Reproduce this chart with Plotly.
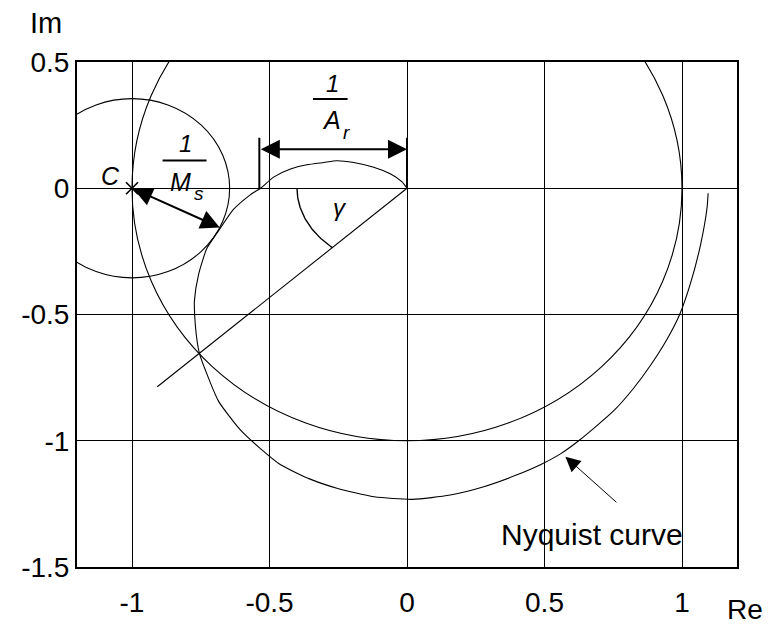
import numpy as np
import plotly.graph_objects as go

# ---- data -------------------------------------------------------------
# Nyquist curve of the loop transfer function, low -> high frequency
nyq_re = [1.095, 1.091, 1.067, 1.030, 0.990, 0.945, 0.885, 0.824, 0.751,
          0.630, 0.558, 0.485, 0.400, 0.279, 0.157, 0.020, -0.120, -0.255,
          -0.352, -0.461, -0.534, -0.606, -0.685, -0.721, -0.754, -0.764,
          -0.772, -0.773, -0.758, -0.728, -0.685, -0.631, -0.570, -0.533,
          -0.485, -0.424, -0.364, -0.303, -0.255, -0.194, -0.121, -0.061,
          -0.018, 0.0]
nyq_im = [-0.020, -0.078, -0.226, -0.380, -0.504, -0.599, -0.702, -0.792, -0.882,
          -0.995, -1.052, -1.095, -1.135, -1.182, -1.215, -1.232, -1.222, -1.188,
          -1.152, -1.094, -1.030, -0.957, -0.844, -0.754, -0.657, -0.599,
          -0.503, -0.445, -0.342, -0.239, -0.168, -0.084, -0.026, 0.0,
          0.044, 0.076, 0.093, 0.102, 0.109, 0.102, 0.083, 0.057,
          0.025, 0.0]

critical_point = (-1.0, 0.0)          # C
ms_radius = 0.355                     # 1/Ms
ms_arrow_angle_deg = -26.0            # direction of the 1/Ms arrow
inv_ar = 0.537                        # 1/Ar (distance from origin to real-axis crossing)
pm_line_re = [0.0, -0.908]            # line through the unit-circle crossing
pm_line_im = [0.0, -0.786]

x_ticks = [-1, -0.5, 0, 0.5, 1]
x_tick_text = ["-1", "-0.5", "0", "0.5", "1"]
y_ticks = [0.5, 0, -0.5, -1, -1.5]
y_tick_text = ["0.5", "0", "-0.5", "-1", "-1.5"]

FONT = "Liberation Sans, Arial, Helvetica, sans-serif"
BLACK = "#000000"

fig = go.Figure()

# Nyquist curve
fig.add_trace(go.Scatter(x=nyq_re, y=nyq_im, mode="lines",
                         line=dict(color=BLACK, width=1.1, shape="spline", smoothing=0.6),
                         hoverinfo="skip", showlegend=False))

# line from the origin through the phase-margin crossing
fig.add_trace(go.Scatter(x=pm_line_re, y=pm_line_im, mode="lines",
                         line=dict(color=BLACK, width=1.1),
                         hoverinfo="skip", showlegend=False))

# gamma arc between negative real axis and the line
pm_angle = np.arctan2(pm_line_im[1], pm_line_re[1])
arc_a, arc_b = 0.40, 0.32
t_end = np.arctan2(np.tan(pm_angle) * arc_a / arc_b, 1.0) + np.pi
t = np.linspace(np.pi, t_end, 60)
fig.add_trace(go.Scatter(x=arc_a * np.cos(t), y=arc_b * np.sin(t), mode="lines",
                         line=dict(color=BLACK, width=1.4),
                         hoverinfo="skip", showlegend=False))

# critical point marker
fig.add_trace(go.Scatter(x=[critical_point[0]], y=[critical_point[1]], mode="markers",
                         marker=dict(symbol="x-thin", size=12,
                                     line=dict(color=BLACK, width=1.6)),
                         hoverinfo="skip", showlegend=False))

# unit circle and Ms circle
fig.add_shape(type="circle", xref="x", yref="y", x0=-1, x1=1, y0=-1, y1=1,
              line=dict(color=BLACK, width=1.1))
cx, cy = critical_point
fig.add_shape(type="circle", xref="x", yref="y",
              x0=cx - ms_radius, x1=cx + ms_radius, y0=cy - ms_radius, y1=cy + ms_radius,
              line=dict(color=BLACK, width=1.1))

# 1/Ar dimension: end ticks and double arrow
ar_y = 0.154
for xv in (-inv_ar, 0.0):
    fig.add_shape(type="line", xref="x", yref="y", x0=xv, x1=xv, y0=0.0, y1=0.2,
                  line=dict(color=BLACK, width=2))
fig.add_annotation(x=0.0, y=ar_y, ax=-inv_ar, ay=ar_y, xref="x", yref="y",
                   axref="x", ayref="y", text="", showarrow=True,
                   arrowhead=2, arrowside="end+start", arrowsize=1.9,
                   arrowwidth=2, arrowcolor=BLACK)

# 1/Ms double arrow from C to the tangent point
ang = np.deg2rad(ms_arrow_angle_deg)
ms_tip = (cx + ms_radius * np.cos(ang), cy + ms_radius * np.sin(ang))
fig.add_annotation(x=ms_tip[0], y=ms_tip[1], ax=cx, ay=cy, xref="x", yref="y",
                   axref="x", ayref="y", text="", showarrow=True,
                   arrowhead=2, arrowside="end+start", arrowsize=1.9,
                   arrowwidth=2, arrowcolor=BLACK)

# fraction bars
fig.add_shape(type="line", xref="x", yref="y", x0=-0.889, x1=-0.729, y0=0.110, y1=0.110,
              line=dict(color=BLACK, width=2))
fig.add_shape(type="line", xref="x", yref="y", x0=-0.342, x1=-0.216, y0=0.353, y1=0.353,
              line=dict(color=BLACK, width=2))

def label(text, x, y, size, italic=False, xanchor="center", yanchor="middle",
          xref="x", yref="y"):
    fig.add_annotation(x=x, y=y, xref=xref, yref=yref, text=text, showarrow=False,
                       xanchor=xanchor, yanchor=yanchor, borderpad=0,
                       font=dict(family=FONT, size=size, color=BLACK,
                                 style="italic" if italic else "normal"))

label("1", -0.806, 0.176, 24, italic=True)
label("M", -0.823, 0.025, 25, italic=True)
label("s", -0.757, -0.020, 19, italic=True)
label("C", -1.079, 0.048, 25, italic=True)
label("1", -0.272, 0.415, 24, italic=True)
label("A", -0.275, 0.270, 25, italic=True)
label("r", -0.219, 0.222, 19, italic=True)
label("γ", -0.243, -0.075, 24, italic=True)
label("Nyquist curve", 0.671, -1.372, 30)

# arrow pointing at the Nyquist curve
fig.add_annotation(x=0.576, y=-1.063, ax=0.767, ay=-1.249, xref="x", yref="y",
                   axref="x", ayref="y", text="", showarrow=True,
                   arrowhead=2, arrowsize=3, arrowwidth=1, arrowcolor=BLACK)

# axis names
label("Im", -0.0727, 1.077, 29, xanchor="left", xref="paper", yref="paper")
label("Re", 1.012, -0.085, 28, xref="paper", yref="paper")

axis_common = dict(showgrid=True, gridcolor=BLACK, gridwidth=1.3,
                   showline=True, linecolor=BLACK, linewidth=2, mirror=True,
                   zeroline=False, ticks="", tickfont=dict(family=FONT, size=28, color=BLACK))
fig.update_xaxes(range=[-1.2, 1.2], tickvals=x_ticks, ticktext=x_tick_text,
                 ticklabelstandoff=9, **axis_common)
fig.update_yaxes(range=[-1.5, 0.5], tickvals=y_ticks, ticktext=y_tick_text,
                 ticklabelstandoff=0, **axis_common)

fig.update_layout(width=769, height=630,
                  margin=dict(l=77, r=32, t=62, b=50, pad=0),
                  paper_bgcolor="white", plot_bgcolor="white",
                  showlegend=False)

fig.write_html("out.html")
